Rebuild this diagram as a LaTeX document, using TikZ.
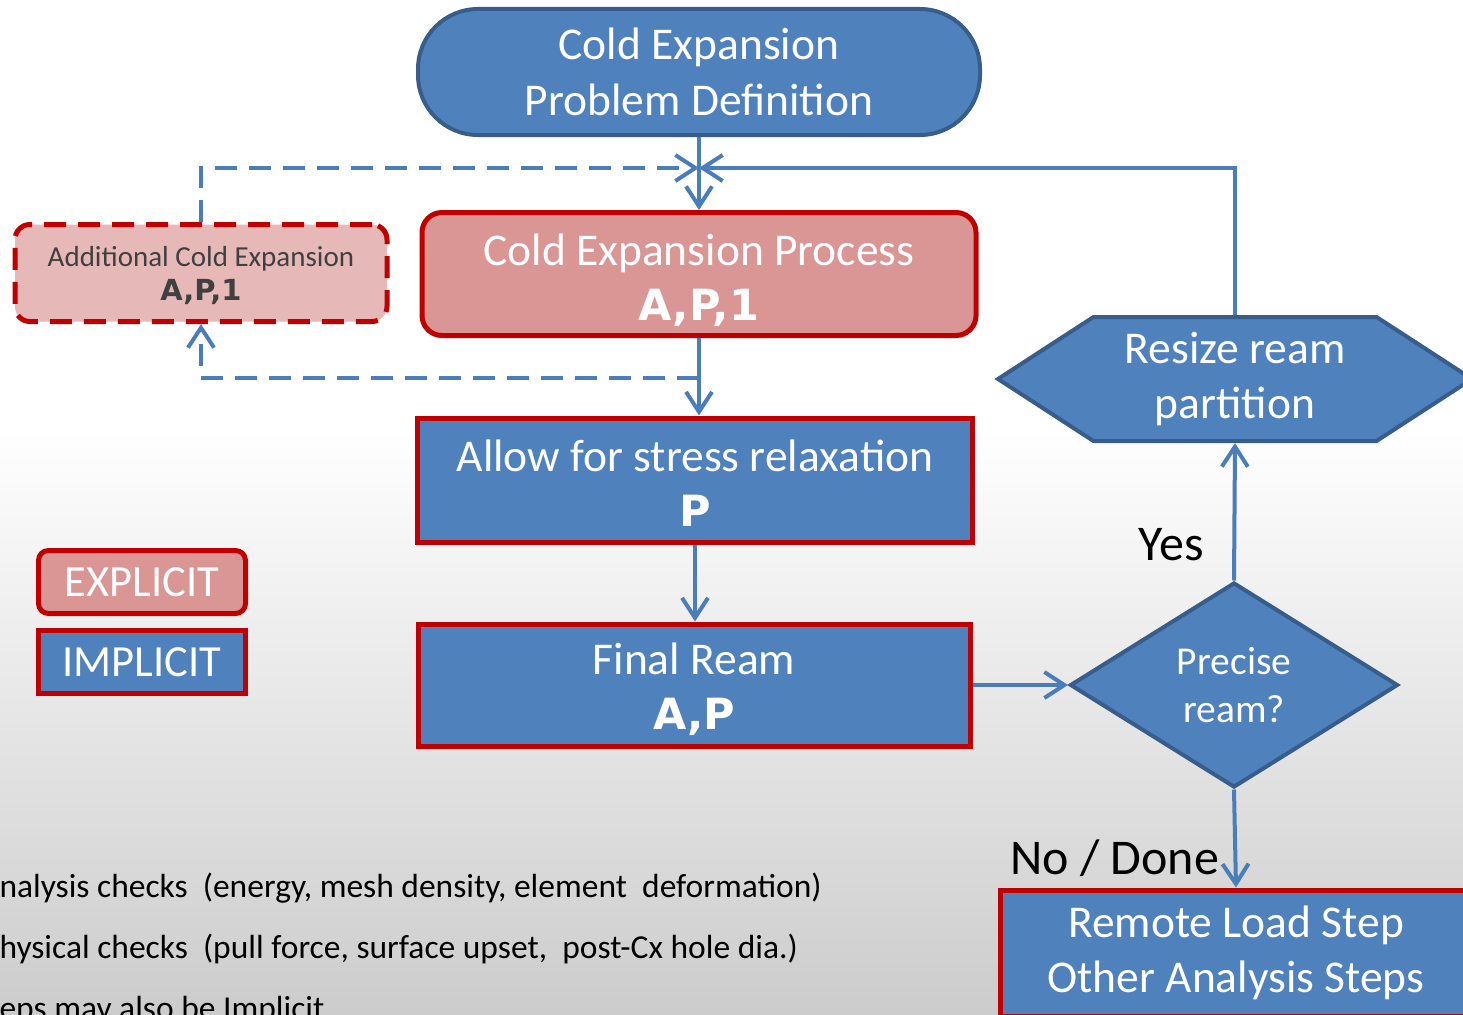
\documentclass[tikz,border=0pt]{standalone}
\usepackage{fontspec}
\setmainfont{Carlito}
\newfontfamily\heavyfont{DejaVu Sans}
\usepackage{xcolor}
\usepackage{tikz}
\usetikzlibrary{arrows.meta,positioning,calc,shapes.geometric,shapes.symbols}

\definecolor{boxblue}{HTML}{4F81BD}
\definecolor{edgeblue}{HTML}{385D8A}
\definecolor{flowblue}{HTML}{4A7EBB}
\definecolor{cxred}{HTML}{C00000}
\definecolor{cxrose}{HTML}{D99694}
\definecolor{cxpink}{HTML}{E6B9B8}
\definecolor{notegray}{HTML}{404040}

\begin{document}
\begin{tikzpicture}[x=1pt, y=-1pt, >={Straight Barb[length=20pt,width=26pt]},
  flow/.style={flowblue, line width=4pt},
  dashflow/.style={flow, dash pattern=on 22pt off 12pt},
  implicitbox/.style={draw=cxred, line width=5pt, fill=boxblue, text=white, align=center, inner sep=0pt},
  explicitbox/.style={implicitbox, fill=cxrose, rounded corners=18pt},
  bluebox/.style={draw=edgeblue, line width=4pt, fill=boxblue, text=white, align=center, inner sep=0pt},
  bigtext/.style={font=\fontsize{45.5}{55}\selectfont},
  tag/.style={text=black, font=\fontsize{50}{60}\selectfont},
  note/.style={anchor=base west, font=\fontsize{33.5}{40}\selectfont}]
  % Frame and backdrop
  \useasboundingbox (0,0) rectangle (1463,1014);
  \clip (0,0) rectangle (1463,1014);
  \fill[white] (0,0) rectangle (1463,1014);
  \shade[top color=white, bottom color=gray!40] (0,430) rectangle (1463,1014);

  % Steps
  \node[bluebox, rounded corners=60pt, minimum width=562pt, minimum height=126pt, font=\fontsize{45.5}{56}\selectfont] (probdef) at (699,72) {Cold Expansion\\Problem Definition};
  \node[explicitbox, fill=cxpink, dash pattern=on 22pt off 12pt, rounded corners=15pt, minimum width=372pt, minimum height=97pt, text=notegray, font=\fontsize{29}{34}\selectfont] (extra) at (201,273) {\rule{0pt}{26pt}Additional Cold Expansion\\{\heavyfont\bfseries\fontsize{29}{34}\selectfont A,P,1}};
  \node[explicitbox, rounded corners=20pt, minimum width=554pt, minimum height=123pt, bigtext] (cxproc) at (699,274) {\rule{0pt}{44pt}Cold Expansion Process\\{\heavyfont\bfseries\fontsize{43}{55}\selectfont A,P,1}};
  \node[implicitbox, minimum width=555pt, minimum height=124pt, bigtext] (relax) at (695,480) {\rule{0pt}{38pt}Allow for stress relaxation\\{\heavyfont\bfseries\fontsize{43}{55}\selectfont P}};
  \node[implicitbox, minimum width=552pt, minimum height=122pt, bigtext] (ream) at (694,685) {\rule{0pt}{40pt}Final Ream\\{\heavyfont\bfseries\fontsize{43}{55}\selectfont A,P}};
  \node[bluebox, diamond, minimum width=328pt, minimum height=205pt, font=\fontsize{39.5}{48}\selectfont] (precise) at (1234,685) {Precise\\ream?};
  \node[bluebox, signal, signal to=west and east, signal pointer angle=66, minimum width=474pt, minimum height=124pt, bigtext] (resize) at (1235,379) {Resize ream\\partition};
  \node[implicitbox, minimum width=472pt, minimum height=126pt, bigtext] (remote) at (1236,953) {Remote Load Step\\Other Analysis Steps};

  % Legend
  \node[explicitbox, rounded corners=10pt, minimum width=207pt, minimum height=63pt, font=\fontsize{44.5}{50}\selectfont] (explicit) at (142,582) {EXPLICIT};
  \node[implicitbox, minimum width=207pt, minimum height=63pt, font=\fontsize{44.5}{50}\selectfont] (implicit) at (142,662) {IMPLICIT};

  % Flow
  \coordinate (merge) at (699,168);
  \draw[flow,->] (probdef.south) -- (cxproc.north);
  \draw[dashflow,->] (extra.north) |- (merge);
  \draw[flow,->] (resize.north) |- (merge);
  \draw[flow,->] (cxproc.south) -- (cxproc.south |- relax.north);
  \coordinate (branch) at ($(cxproc.south)!0.52!(cxproc.south |- relax.north)$);
  \draw[dashflow,->] (branch) -| (extra.south);
  \draw[flow,->] (relax.south) -- (relax.south |- ream.north);
  \draw[flow,->] (ream.east) -- (precise.west);
  \draw[flow,->] (precise.north) -- node[pos=0.26, left=25pt, tag] (yes) {Yes} (resize.south);
  \draw[flow,->] (precise.south) -- node[pos=0.7, left=11pt, tag] (done) {No / Done} (remote.north);

  % Notes
  \node[note] (note1) at (-4,897) {nalysis checks\ \ (energy, mesh density, element\ \ deformation)};
  \node[note] (note2) at (-4,958) {hysical checks\ \ (pull force, surface upset,\ \ post-Cx hole dia.)};
  \node[note] (note3) at (-4,1019) {eps may also be Implicit};
\end{tikzpicture}
\end{document}
